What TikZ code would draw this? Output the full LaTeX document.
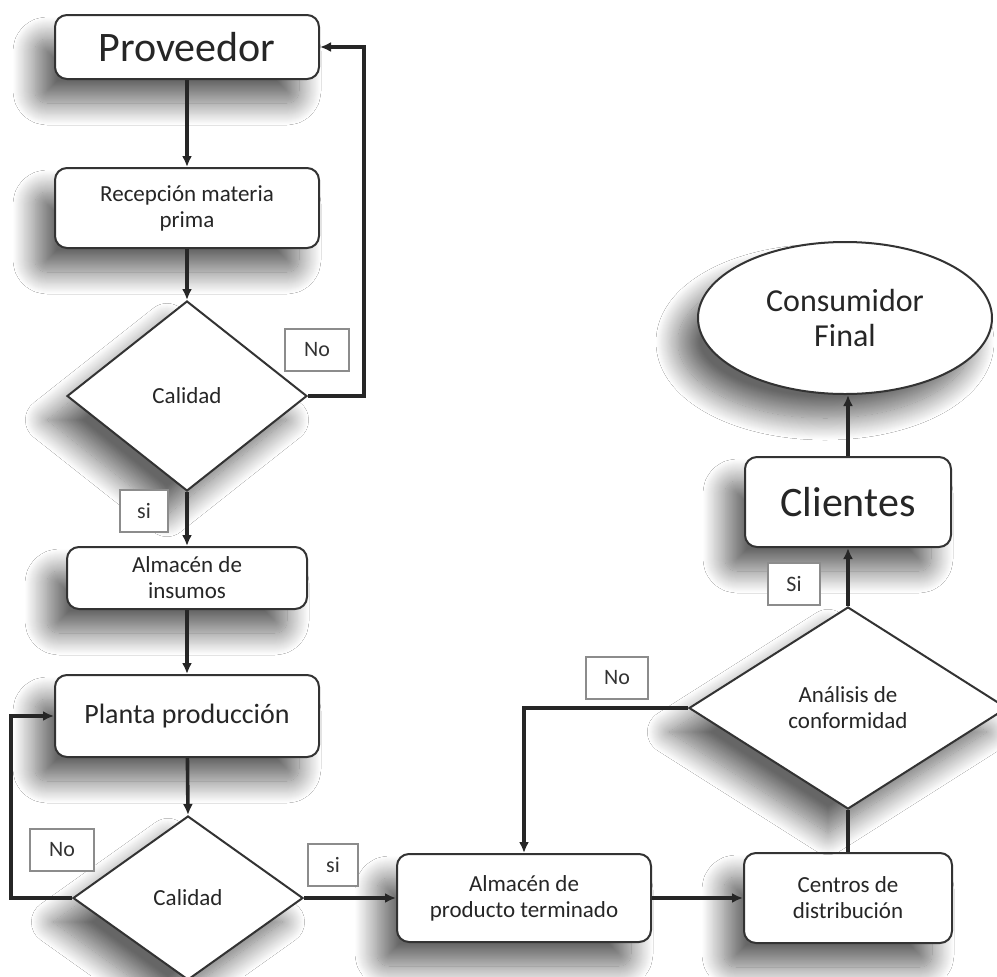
\documentclass[tikz,border=0pt]{standalone}
\usepackage{fontspec}
\setmainfont{Carlito}
\usetikzlibrary{shapes.geometric,arrows.meta,shadows.blur}

\tikzset{
  sombra/.style={blur shadow={shadow xshift=-10pt,shadow yshift=-12pt,
      shadow blur radius=11pt,shadow blur steps=24,shadow opacity=60}},
  caja/.style={draw=black!80,line width=1pt,rounded corners=6pt,fill=white,
      align=center,inner sep=2pt,text=black!85,sombra},
  rombo/.style={diamond,draw=black!80,line width=1pt,fill=white,
      align=center,inner sep=0pt,text=black!85,sombra},
  etiq/.style={draw=black!45,line width=0.7pt,fill=white,text=black!80,
      inner sep=0pt,font=\fontsize{11}{13}\selectfont},
  chico/.style={font=\fontsize{11.5}{13}\selectfont},
  flecha/.style={draw=black!85,line width=1.8pt,-{Latex[length=5.5pt,width=5pt]}},
  linea/.style={draw=black!85,line width=1.8pt}
}

\begin{document}
\begin{tikzpicture}[x=0.5pt,y=-0.5pt]
    \useasboundingbox (0,0) rectangle (997,976);
    \fill[white] (0,0) rectangle (997,976);
    % columna izquierda
    \node[caja,minimum width=132pt,minimum height=32pt,font=\fontsize{21}{24}\selectfont] (prov) at (187,47) {Proveedor};
    \node[caja,chico,minimum width=132pt,minimum height=40pt] (recep) at (187,208) {Recepción materia\\prima};
    \node[rombo,chico,minimum width=120pt,minimum height=95pt] (cal1) at (187,396) {Calidad};
    \node[caja,chico,minimum width=120pt,minimum height=31pt] (alm1) at (187,578) {Almacén de\\insumos};
    \node[caja,minimum width=132pt,minimum height=41pt,font=\fontsize{14}{17}\selectfont] (planta) at (187,716) {Planta producción};
    \node[rombo,chico,minimum width=115pt,minimum height=82pt] (cal2) at (188,898) {Calidad};
    % fila inferior y columna derecha
    \node[caja,chico,minimum width=127pt,minimum height=44pt] (almpt) at (524,898) {Almacén de\\producto terminado};
    \node[caja,chico,minimum width=104pt,minimum height=45pt] (centros) at (848,898) {Centros de\\distribución};
    \node[rombo,chico,minimum width=159pt,minimum height=101pt] (anal) at (848,708) {Análisis de\\conformidad};
    \node[caja,minimum width=103pt,minimum height=45pt,font=\fontsize{21}{24}\selectfont] (cli) at (848,502) {Clientes};
    \node[ellipse,draw=black!80,line width=1pt,fill=white,align=center,text=black!85,sombra,
      minimum width=147pt,minimum height=76pt,font=\fontsize{16}{17.5}\selectfont] (cons) at (845,318) {Consumidor\\Final};

    \draw[flecha] (prov) -- (recep);
    \draw[flecha] (recep) -- (cal1);
    \draw[flecha] (cal1.east) -- ++(56,0) |- (prov.east);
    \draw[flecha] (cal1.south) -- (alm1.north);
    \draw[flecha] (alm1) -- (planta);
    \draw[flecha] (planta) -- (cal2.north);
    \draw[flecha] (cal2.west) -- ++(-61,0) |- (planta.west);
    \draw[flecha] (cal2.east) -- (almpt.west);
    \draw[flecha] (almpt) -- (centros);
    \draw[linea] (centros.north) -- (anal.south);
    \draw[flecha] (anal.west) -| (almpt.north);
    \draw[flecha] (anal.north) -- (cli.south);
    \draw[flecha] (cli.north) -- (cli.north |- cons.south);

    \node[etiq,minimum width=32pt,minimum height=21pt] (no1) at (317,350) {No};
    \node[etiq,minimum width=24pt,minimum height=21pt] (si1) at (144,511) {si};
    \node[etiq,minimum width=32pt,minimum height=21pt] (no2) at (62,850) {No};
    \node[etiq,minimum width=25pt,minimum height=21pt] (si2) at (333,865) {si};
    \node[etiq,minimum width=31pt,minimum height=21pt] (no3) at (617,678) {No};
    \node[etiq,minimum width=26pt,minimum height=21pt] (si3) at (794,584) {Si};
\end{tikzpicture}
\end{document}
